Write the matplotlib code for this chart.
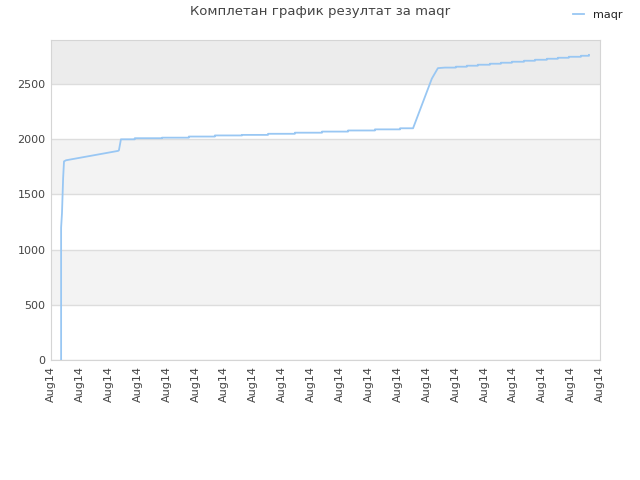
import numpy as np
import matplotlib
matplotlib.use('Agg')
from matplotlib import pyplot as plt

### Data (x in days from the first tick)
early_x = [0.35, 0.35, 0.38, 0.42, 0.45, 0.52, 2.32, 2.35, 2.42]
early_y = [0, 1200, 1330, 1650, 1800, 1810, 1895, 1900, 2000]

mid_step_x = [2.42, 2.90, 3.84, 4.77, 5.67, 6.61, 7.51, 8.44, 9.38, 10.28, 11.21, 12.08]
mid_step_y = [2000, 2010, 2015, 2025, 2035, 2040, 2050, 2060, 2070, 2080, 2090, 2100]
mid_end_x = 12.53

rise_x = [12.53, 13.18, 13.39]
rise_y = [2100, 2550, 2645]

late_step_x = [13.63, 14.01, 14.39, 14.77, 15.19, 15.57, 15.95, 16.37, 16.75,
               17.16, 17.54, 17.92, 18.34]
late_step_y = [2650, 2658, 2667, 2676, 2685, 2694, 2703, 2712, 2721,
               2730, 2739, 2748, 2757]
late_end_x = 18.62
late_end_y = 2765

tick_labels = ['Aug14'] * 20

### Build the path: stairs are expanded into horizontal + vertical pieces
def stairs(xs, ys, x_end):
    px, py = [], []
    for i in range(len(xs)):
        px.append(xs[i])
        py.append(ys[i])
        nx = xs[i + 1] if i + 1 < len(xs) else x_end
        px.append(nx)
        py.append(ys[i])
    return px, py

mx, my = stairs(mid_step_x, mid_step_y, mid_end_x)
lx, ly = stairs(late_step_x, late_step_y, late_end_x)

path_x = early_x + mx + rise_x + lx + [late_end_x]
path_y = early_y + my + rise_y + ly + [late_end_y]

### Figure
fig = plt.figure(figsize=(6.4, 4.8), dpi=100)
ax = fig.add_axes([51 / 640, 1 - 360 / 480, 549 / 640, 320 / 480])

ymax = 2900
# alternating bands
ax.axhspan(500, 1000, color='#f3f3f3', zorder=0, lw=0)
ax.axhspan(1500, 2000, color='#f3f3f3', zorder=0, lw=0)
ax.axhspan(2500, ymax, color='#ececec', zorder=0, lw=0)

ax.plot(path_x, path_y, color='#99c7f3', lw=1.3, zorder=3, label='maqr')

ax.set_xlim(0, 19)
ax.set_ylim(0, ymax)

ax.set_yticks([0, 500, 1000, 1500, 2000, 2500])
ax.yaxis.grid(True, color='#dddddd', lw=1)
ax.set_axisbelow(True)

ax.set_xticks(np.arange(20))
ax.set_xticklabels(tick_labels, rotation=90)

ax.tick_params(axis='both', length=0, labelsize=8, labelcolor='#444444', pad=4)
for s in ax.spines.values():
    s.set_color('#d5d5d5')

fig.text(0.5, 1 - 12 / 480, 'Комплетан график резултат за maqr',
         ha='center', va='center', fontsize=9.5, color='#444444')

fig.legend(loc='upper right', bbox_to_anchor=(0.9875, 1.0), frameon=False,
           fontsize=8, handlelength=1.0, labelcolor='#222222')

plt.savefig('out.png', dpi=100)
